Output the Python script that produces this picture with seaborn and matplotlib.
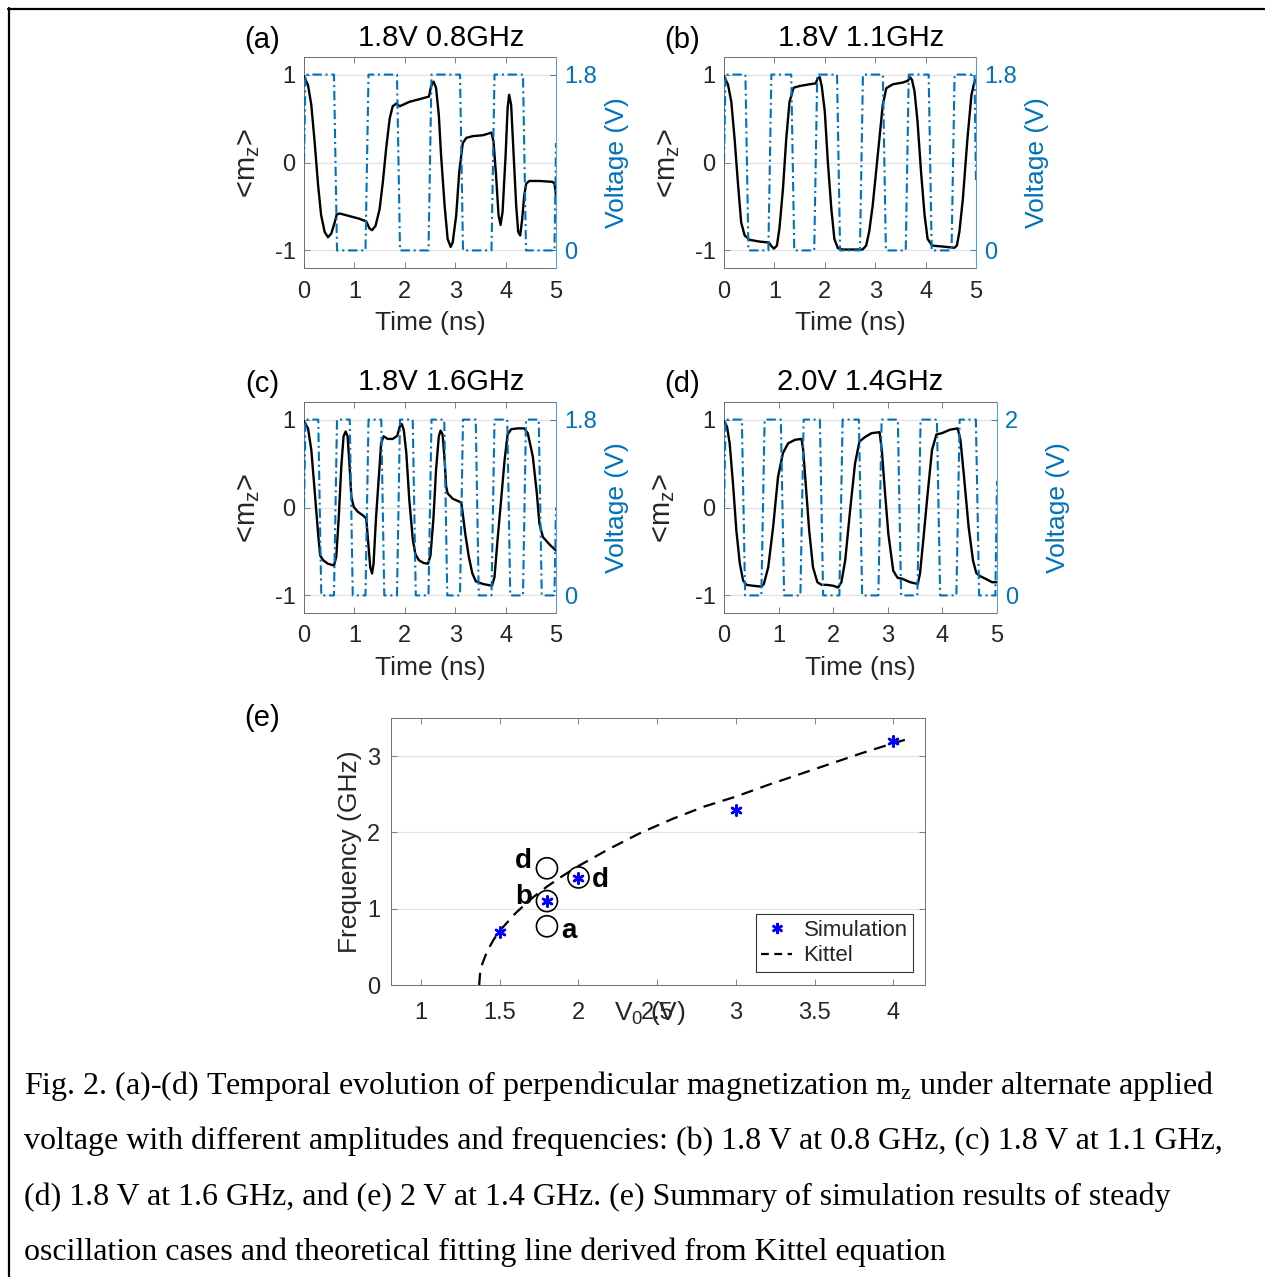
import numpy as np
import pandas as pd
import matplotlib
matplotlib.use("Agg")
import matplotlib.pyplot as plt
import seaborn as sns
from matplotlib.lines import Line2D

# ---------------- data ----------------
mz_a_t = [0.0, 0.08, 0.145, 0.21, 0.28, 0.34, 0.41, 0.476, 0.54, 0.61, 0.65, 0.71, 0.905, 1.10, 1.235,
          1.30, 1.35, 1.42, 1.50, 1.565, 1.63, 1.70, 1.76, 1.83, 1.90, 2.09, 2.29, 2.48, 2.52, 2.57,
          2.62, 2.675, 2.72, 2.79, 2.85, 2.91, 2.95, 3.02, 3.08, 3.15, 3.22, 3.35, 3.55, 3.72, 3.76,
          3.81, 3.86, 3.90, 3.94, 4.00, 4.04, 4.07, 4.11, 4.16, 4.21, 4.25, 4.29, 4.33, 4.37, 4.41,
          4.47, 4.67, 4.93, 4.97, 5.0]
mz_a = [0.98, 0.88, 0.655, 0.24, -0.26, -0.60, -0.79, -0.85, -0.81, -0.68, -0.59, -0.58, -0.61, -0.64, -0.67,
        -0.75, -0.77, -0.72, -0.53, -0.22, 0.16, 0.50, 0.64, 0.67, 0.64, 0.69, 0.72, 0.75, 0.865, 0.92,
        0.85, 0.54, 0.08, -0.49, -0.87, -0.96, -0.91, -0.60, -0.11, 0.22, 0.28, 0.30, 0.31, 0.34, 0.24,
        -0.14, -0.60, -0.71, -0.56, 0.08, 0.62, 0.77, 0.655, 0.08, -0.49, -0.79, -0.83, -0.64, -0.37, -0.24,
        -0.21, -0.21, -0.22, -0.24, -0.37]

mz_b_t = [0.0, 0.08, 0.145, 0.21, 0.28, 0.34, 0.41, 0.51, 0.71, 0.89, 0.94, 0.99, 1.05, 1.10, 1.17,
          1.235, 1.30, 1.38, 1.50, 1.70, 1.82, 1.86, 1.90, 1.94, 2.0, 2.06, 2.13, 2.19, 2.26, 2.36,
          2.56, 2.75, 2.82, 2.88, 2.95, 3.05, 3.15, 3.22, 3.35, 3.55, 3.65, 3.69, 3.73, 3.78, 3.84,
          3.91, 3.98, 4.04, 4.13, 4.34, 4.57, 4.62, 4.67, 4.74, 4.83, 4.91, 4.97, 5.0]
mz_b = [0.98, 0.885, 0.69, 0.27, -0.26, -0.68, -0.83, -0.88, -0.90, -0.91, -0.95, -0.98, -0.945, -0.75, -0.30,
        0.27, 0.69, 0.85, 0.87, 0.89, 0.90, 0.96, 0.97, 0.865, 0.58, 0.01, -0.53, -0.87, -0.975, -0.99,
        -0.99, -0.99, -0.945, -0.79, -0.49, 0.08, 0.655, 0.845, 0.89, 0.91, 0.93, 0.97, 0.94, 0.81, 0.465,
        -0.11, -0.60, -0.87, -0.945, -0.956, -0.97, -0.945, -0.79, -0.41, 0.27, 0.77, 0.92, 0.94]

mz_c_t = [0.0, 0.08, 0.145, 0.21, 0.28, 0.32, 0.38, 0.476, 0.595, 0.64, 0.69, 0.74, 0.785, 0.826, 0.865,
          0.905, 0.94, 0.985, 1.07, 1.17, 1.235, 1.27, 1.315, 1.35, 1.38, 1.43, 1.49, 1.53, 1.58, 1.66,
          1.76, 1.85, 1.90, 1.94, 1.98, 2.03, 2.09, 2.16, 2.21, 2.28, 2.37, 2.46, 2.51, 2.57, 2.62,
          2.675, 2.71, 2.75, 2.79, 2.82, 2.85, 2.95, 3.12, 3.15, 3.20, 3.27, 3.34, 3.41, 3.55, 3.73,
          3.78, 3.84, 3.91, 3.98, 4.04, 4.11, 4.24, 4.37, 4.44, 4.54, 4.62, 4.67, 4.74, 4.87, 5.0]
mz_c = [0.98, 0.90, 0.655, 0.20, -0.30, -0.545, -0.60, -0.64, -0.66, -0.56, -0.11, 0.465, 0.81, 0.865, 0.81,
        0.465, 0.12, 0.008, -0.05, -0.09, -0.126, -0.37, -0.68, -0.75, -0.64, -0.107, 0.39, 0.73, 0.81, 0.78,
        0.78, 0.815, 0.92, 0.95, 0.88, 0.62, 0.08, -0.37, -0.53, -0.60, -0.63, -0.64, -0.545, -0.107, 0.43,
        0.81, 0.875, 0.83, 0.54, 0.24, 0.16, 0.10, 0.057, -0.07, -0.30, -0.56, -0.75, -0.84, -0.87, -0.89,
        -0.79, -0.37, 0.08, 0.54, 0.83, 0.89, 0.90, 0.90, 0.845, 0.58, 0.16, -0.18, -0.335, -0.42, -0.49]

mz_d_t = [0.0, 0.055, 0.104, 0.165, 0.226, 0.29, 0.35, 0.41, 0.53, 0.685, 0.73, 0.81, 0.90, 0.99, 1.08,
          1.175, 1.30, 1.42, 1.45, 1.50, 1.56, 1.63, 1.71, 1.79, 1.88, 2.0, 2.09, 2.15, 2.22, 2.31,
          2.40, 2.48, 2.58, 2.70, 2.85, 2.89, 2.95, 3.01, 3.10, 3.18, 3.26, 3.41, 3.55, 3.59, 3.65,
          3.73, 3.81, 3.89, 3.99, 4.14, 4.28, 4.33, 4.39, 4.48, 4.56, 4.62, 4.69, 4.82, 4.91, 5.0]
mz_d = [0.98, 0.92, 0.73, 0.27, -0.26, -0.64, -0.83, -0.88, -0.89, -0.90, -0.87, -0.68, -0.22, 0.35, 0.62,
        0.73, 0.77, 0.78, 0.655, 0.24, -0.26, -0.68, -0.85, -0.88, -0.88, -0.89, -0.91, -0.85, -0.60, -0.03,
        0.50, 0.75, 0.80, 0.845, 0.857, 0.655, 0.16, -0.30, -0.72, -0.80, -0.81, -0.85, -0.87, -0.75, -0.37,
        0.16, 0.655, 0.83, 0.845, 0.885, 0.90, 0.77, 0.39, -0.22, -0.60, -0.745, -0.78, -0.82, -0.85, -0.85]

# applied voltage (square wave corners)
v_a_t = [0, 0.03, 0.595, 0.655, 1.22, 1.28, 1.845, 1.905, 2.47, 2.53, 3.095, 3.155, 3.72, 3.78,
         4.345, 4.405, 4.97, 5.0]
v_a = [0.9, 1.8, 1.8, 0, 0, 1.8, 1.8, 0, 0, 1.8, 1.8, 0, 0, 1.8, 1.8, 0, 0, 1.1]

v_b_t = [0, 0.03, 0.425, 0.485, 0.88, 0.94, 1.334, 1.394, 1.79, 1.85, 2.243, 2.303, 2.697, 2.757,
         3.152, 3.212, 3.606, 3.666, 4.061, 4.121, 4.515, 4.575, 4.97, 5.0]
v_b = [0.9, 1.8, 1.8, 0, 0, 1.8, 1.8, 0, 0, 1.8, 1.8, 0, 0, 1.8, 1.8, 0, 0, 1.8, 1.8, 0, 0, 1.8, 1.8, 0.7]

v_c_t = [0, 0.03, 0.2825, 0.3425, 0.595, 0.655, 0.9075, 0.9675, 1.22, 1.28, 1.5325, 1.5925, 1.845, 1.905,
         2.1575, 2.2175, 2.47, 2.53, 2.7825, 2.8425, 3.095, 3.155, 3.4075, 3.4675, 3.72, 3.78,
         4.0325, 4.0925, 4.345, 4.405, 4.6575, 4.7175, 4.97, 5.0]
v_c = [0.9, 1.8, 1.8, 0, 0, 1.8, 1.8, 0, 0, 1.8, 1.8, 0, 0, 1.8, 1.8, 0, 0, 1.8, 1.8, 0, 0, 1.8, 1.8, 0,
       0, 1.8, 1.8, 0, 0, 1.8, 1.8, 0, 0, 0.9]

v_d_t = [0, 0.03, 0.327, 0.387, 0.684, 0.744, 1.041, 1.101, 1.399, 1.459, 1.756, 1.816, 2.113, 2.173,
         2.47, 2.53, 2.827, 2.887, 3.184, 3.244, 3.541, 3.601, 3.899, 3.959, 4.256, 4.316, 4.613, 4.673,
         4.97, 5.0]
v_d = [1.0, 2, 2, 0, 0, 2, 2, 0, 0, 2, 2, 0, 0, 2, 2, 0, 0, 2, 2, 0, 0, 2, 2, 0, 0, 2, 2, 0, 0, 1.3]

# panel (e)
sim_v = [1.5, 1.8, 2.0, 3.0, 4.0]
sim_f = [0.7, 1.1, 1.4, 2.3, 3.2]
circ_v = [1.8, 1.8, 1.8, 2.0]
circ_f = [1.53, 1.10, 0.77, 1.41]
circ_lbl = ["d", "b", "a", "d"]
lbl_v = [1.65, 1.65, 1.94, 2.14]
lbl_f = [1.62, 1.15, 0.71, 1.37]
kit_v = [1.37, 1.375, 1.39, 1.42, 1.46, 1.5, 1.6, 1.7, 1.8, 1.9, 2.0, 2.2, 2.4, 2.6, 2.8, 3.0,
         3.2, 3.4, 3.6, 3.8, 4.0, 4.1]
kit_f = [0.0, 0.14, 0.28, 0.44, 0.59, 0.71, 0.94, 1.13, 1.29, 1.43, 1.56, 1.79, 2.0, 2.18, 2.34, 2.47,
         2.62, 2.76, 2.90, 3.04, 3.17, 3.23]

time_ticks = [0, 1, 2, 3, 4, 5]
mz_ticks = [-1, 0, 1]
mz_ticklabels = ["-1", "0", "1"]
e_xticks = [1, 1.5, 2, 2.5, 3, 3.5, 4]
e_xticklabels = ["1", "1.5", "2", "2.5", "3", "3.5", "4"]
e_yticks = [0, 1, 2, 3]

caption = [
    r"Fig. 2. (a)-(d) Temporal evolution of perpendicular magnetization m$_\mathregular{z}$ under alternate applied",
    "voltage with different amplitudes and frequencies: (b) 1.8 V at 0.8 GHz, (c) 1.8 V at 1.1 GHz,",
    "(d) 1.8 V at 1.6 GHz, and (e) 2 V at 1.4 GHz. (e) Summary of simulation results of steady",
    "oscillation cases and theoretical fitting line derived from Kittel equation",
]

# ---------------- style ----------------
sns.set_theme(style="ticks")
plt.rcParams["font.family"] = ["Liberation Sans", "DejaVu Sans"]
plt.rcParams["mathtext.fontset"] = "custom"
plt.rcParams["mathtext.rm"] = "Liberation Sans"

W, H = 1265, 1277
BLUE = "#0072BD"
AXC = "#262626"
SPC = "#6e6e6e"
GRID = "#e3e3e3"

fig = plt.figure(figsize=(W / 100, H / 100), dpi=100)
fig.patch.set_facecolor("white")


def fx(p):
    return p / W


def fy(p):
    return 1 - p / H


def rect(l, t, r, b):
    return [fx(l), fy(b), (r - l) / W, (b - t) / H]


def time_panel(box, t, m, vt, vv, vmax, vlabels, title, tag, title_x, tag_x, ty):
    ax = fig.add_axes(rect(*box))
    sns.lineplot(x=t, y=m, ax=ax, color="black", lw=1.7, estimator=None, sort=False, zorder=3)
    ax.set_xlim(0, 5)
    ax.set_ylim(-1.2, 1.2)
    ax.set_xticks(time_ticks)
    ax.set_xticklabels([str(v) for v in time_ticks])
    ax.set_yticks(mz_ticks)
    ax.set_yticklabels(mz_ticklabels)
    ax.yaxis.grid(True, color=GRID, lw=0.9)
    ax.set_axisbelow(True)
    ax.tick_params(direction="in", length=4, width=0.6, color=SPC, labelcolor=AXC,
                   labelsize=17, top=True, right=False)
    ax.tick_params(axis="x", pad=9)
    ax.tick_params(axis="y", pad=6)
    for s in ["left", "top", "bottom"]:
        ax.spines[s].set_color(SPC)
        ax.spines[s].set_linewidth(0.7)
    ax.spines["right"].set_visible(False)
    ax.set_xlabel("Time (ns)", fontsize=19, color=AXC, labelpad=6)
    ax.set_ylabel(r"<m$_\mathregular{z}$>", fontsize=21, color=AXC)
    ax.yaxis.label.set_va("center")
    ax.yaxis.set_label_coords(-0.222, 0.5)

    ax2 = ax.twinx()
    sns.lineplot(x=vt, y=vv, ax=ax2, color=BLUE, lw=1.5, estimator=None, sort=False,
                 linestyle=(0, (4.5, 1.8, 1, 1.8)))
    ax2.set_ylim(-0.1 * vmax, 1.1 * vmax)
    ax2.set_yticks([0, vmax])
    ax2.set_yticklabels(vlabels)
    ax2.tick_params(axis="y", direction="in", length=4, width=0.6, color=BLUE, labelcolor=BLUE,
                    labelsize=17, pad=6)
    for s in ["left", "top", "bottom"]:
        ax2.spines[s].set_visible(False)
    ax2.spines["right"].set_color("#5aa0d6")
    ax2.spines["right"].set_linewidth(0.8)
    ax2.set_ylabel("Voltage (V)", fontsize=19, color=BLUE)
    ax2.yaxis.label.set_va("center")
    wpx = box[2] - box[0]
    ax2.yaxis.set_label_coords(1 + 61 / wpx, 0.5)

    fig.text(fx(title_x), fy(ty), title, fontsize=21, ha="center", va="center", color="black")
    fig.text(fx(tag_x), fy(ty + 2), tag, fontsize=21, ha="center", va="center", color="black")
    return ax


time_panel((304, 57, 556, 268), mz_a_t, mz_a, v_a_t, v_a, 1.8, ["0", "1.8"], "1.8V 0.8GHz", "(a)", 441, 262, 38)
time_panel((724, 57, 976, 268), mz_b_t, mz_b, v_b_t, v_b, 1.8, ["0", "1.8"], "1.8V 1.1GHz", "(b)", 861, 682, 38)
time_panel((304, 402, 556, 613), mz_c_t, mz_c, v_c_t, v_c, 1.8, ["0", "1.8"], "1.8V 1.6GHz", "(c)", 441, 262, 382)
time_panel((724, 402, 997, 613), mz_d_t, mz_d, v_d_t, v_d, 2.0, ["0", "2"], "2.0V 1.4GHz", "(d)", 860, 682, 382)

# ---------------- panel (e) ----------------
axe = fig.add_axes(rect(391, 718, 925, 985))
sns.lineplot(x=kit_v, y=kit_f, ax=axe, color="black", lw=1.6, estimator=None, sort=False,
             linestyle=(0, (5.5, 3.5)), zorder=2)
sns.scatterplot(x=circ_v, y=circ_f, ax=axe, marker="o", s=230, facecolor="none", edgecolor="black",
                linewidth=1.2, zorder=3)
sns.scatterplot(x=sim_v, y=sim_f, ax=axe, marker=(6, 2, 0), s=55, color="blue", edgecolor="blue",
                linewidth=1.8, zorder=4)
for lv, lf, s in zip(lbl_v, lbl_f, circ_lbl):
    axe.text(lv, lf, s, fontsize=20, fontweight="bold", ha="center", va="center", color="black")
axe.set_xlim(0.81, 4.2)
axe.set_ylim(0, 3.5)
axe.set_xticks(e_xticks)
axe.set_xticklabels(e_xticklabels)
axe.set_yticks(e_yticks)
axe.set_yticklabels([str(v) for v in e_yticks])
axe.yaxis.grid(True, color=GRID, lw=0.9)
axe.set_axisbelow(True)
axe.tick_params(direction="in", length=4, width=0.6, color=SPC, labelcolor=AXC, labelsize=17,
                top=True, right=True)
axe.tick_params(axis="x", pad=12)
axe.tick_params(axis="y", pad=8)
for s in axe.spines.values():
    s.set_color(SPC)
    s.set_linewidth(0.7)
# the reference prints the axis name right over the "2.5" tick label
axe.set_xlabel(r"V$_\mathregular{0}$ (V)", fontsize=19, color=AXC)
axe.xaxis.label.set_va("center")
axe.xaxis.set_label_coords(0.485, -0.103)
axe.set_ylabel("Frequency (GHz)", fontsize=19, color=AXC)
axe.yaxis.label.set_va("center")
axe.yaxis.set_label_coords(-0.077, 0.5)

handles = [Line2D([], [], color="blue", marker=(6, 2, 0), ls="none", markersize=8, mew=1.8),
           Line2D([], [], color="black", lw=1.6, ls=(0, (3.5, 2.5)))]
leg = axe.legend(handles, ["Simulation", "Kittel"], loc="lower right", bbox_to_anchor=(0.978, 0.049),
                 borderaxespad=0, fontsize=16, frameon=True, fancybox=False, framealpha=1,
                 edgecolor="#333333", handlelength=1.4, handletextpad=0.5, borderpad=0.25,
                 labelspacing=0.2)
leg.get_frame().set_linewidth(0.8)
fig.text(fx(262), fy(718), "(e)", fontsize=21, ha="center", va="center", color="black")

# ---------------- caption ----------------
for i, line in enumerate(caption):
    fig.text(fx(24), fy(1094 + 55.3 * i), line, fontsize=23, ha="left", va="baseline",
             family=["Liberation Serif", "DejaVu Serif"], color="black")

# frame lines
fig.add_artist(Line2D([fx(8), 1.0], [fy(8.5), fy(8.5)], transform=fig.transFigure, color="black", lw=1.6))
fig.add_artist(Line2D([fx(8.5), fx(8.5)], [0.0, fy(8)], transform=fig.transFigure, color="black", lw=1.6))

fig.savefig("out.png", dpi=100)
